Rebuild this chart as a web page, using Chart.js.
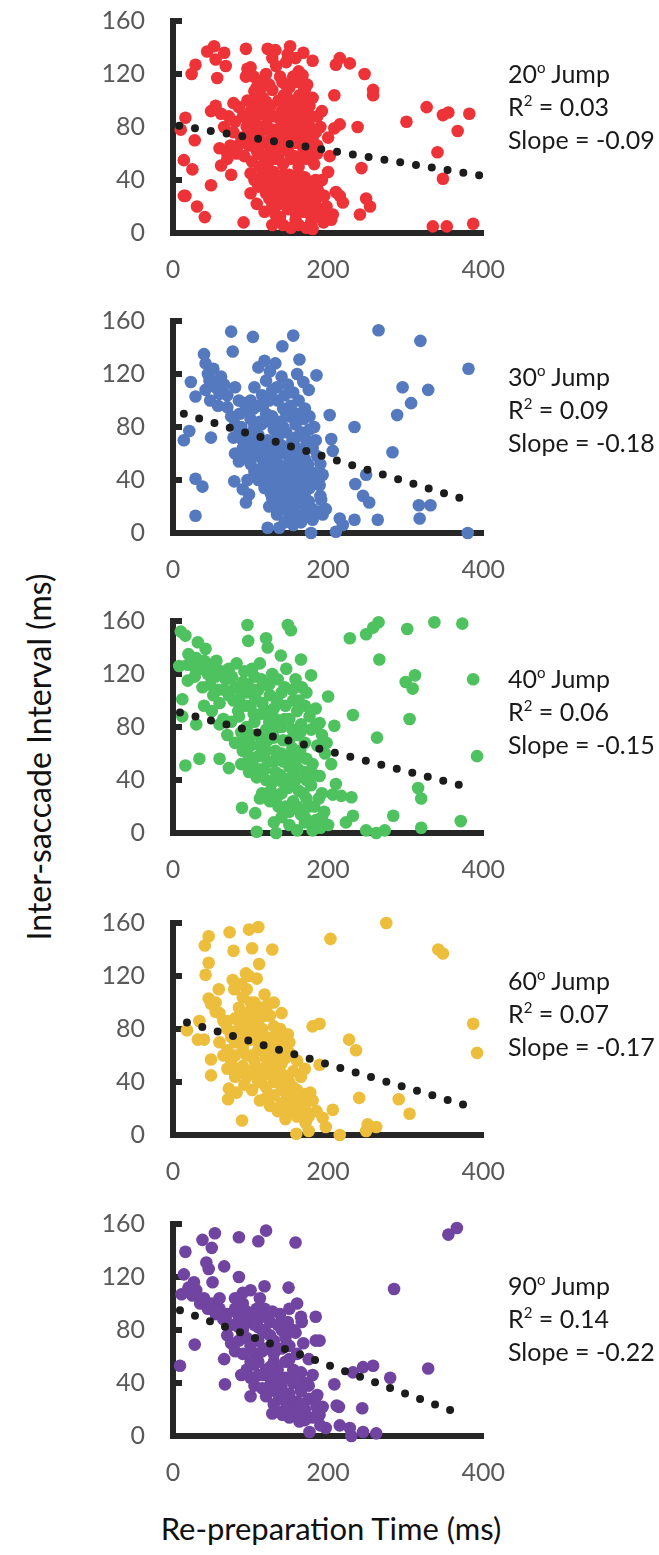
<!DOCTYPE html>
<html lang="en">
<head>
<meta charset="UTF-8">
<script src="https://cdn.jsdelivr.net/npm/chart.js"></script>
<style>
  body { margin: 0; background: #fff; }
  #page { position: relative; width: 659px; height: 1555px; font-family: Lato, sans-serif; overflow: hidden; }
  canvas { position: absolute; left: 0; }
  .note { position: absolute; left: 508px; font-size: 25px; line-height: 33px; color: #1a1a1a; white-space: nowrap; }
  .note sup { font-size: 15px; vertical-align: 10px; line-height: 0; }
  #xtitle { position: absolute; left: 0; width: 662px; top: 1509px; text-align: center; font-size: 31px; color: #111; }
  #ytitle { position: absolute; left: 38px; top: 757px; transform: translate(-50%, -50%) rotate(-90deg); font-size: 32px; color: #111; white-space: nowrap; }
</style>
</head>
<body>
<div id="page">
  <div id="ytitle">Inter-saccade Interval (ms)</div>
  <div id="xtitle">Re-preparation Time (ms)</div>
</div>
<script>
// ---- data ----
const jumps = ['20', '30', '40', '60', '90']
const rSquared = ['0.03', '0.09', '0.06', '0.07', '0.14']
const slopes = ['-0.09', '-0.18', '-0.15', '-0.17', '-0.22']
const xTicks = [0, 200, 400]
const yTicks = [0, 40, 80, 120, 160]

const jump20 = [[53,141],[44,137],[66,136],[94,139],[122,139],[151,141],[168,136],[180,130],[29,127],[24,120],
  [55,131],[68,126],[57,117],[96,124],[94,118],[128,132],[133,126],[146,129],[141,114],[167,119],[169,110],
  [215,132],[210,127],[228,128],[247,120],[258,108],[258,104],[208,104],[115,115],[105,107],[120,99],[143,104],
  [180,102],[49,92],[55,96],[16,87],[10,78],[28,70],[14,55],[25,48],[49,36],[14,28],[16,28],[31,20],[41,12],
  [91,8],[128,6],[180,3],[241,14],[249,26],[254,20],[215,28],[219,23],[243,49],[238,80],[301,84],[327,95],
  [348,89],[355,91],[382,90],[367,77],[341,61],[348,41],[335,5],[353,5],[387,7],[208,79],[215,82],[200,72],
  [202,58],[200,46],[189,39],[184,36],[210,31],[197,14],[206,14],[62,51],[75,44],[70,56],
  [85,95],[90,88],[95,80],[100,92],[105,85],[110,75],[115,90],[120,82],[125,70],[130,88],[135,78],[140,92],
  [145,84],[150,72],[155,95],[160,86],[165,78],[170,90],[175,82],[180,70],[88,72],[98,66],[108,62],[118,68],
  [128,60],[138,66],[148,62],[158,68],[168,64],[178,60],[92,58],[102,54],[112,60],[122,52],[132,56],[142,52],
  [152,56],[162,50],[172,56],[182,52],[80,84],[84,66],[96,100],[106,98],[116,102],[126,96],[136,100],[146,104],
  [156,100],[166,98],[176,96],[186,88],[190,80],[112,108],[124,112],[150,110],[160,114],[104,76],[134,72],
  [144,76],[164,72],[174,74],[114,96],[154,82],[170,100],[78,76],[82,60],[186,66],[192,92],
  [100,45],[105,40],[110,35],[115,44],[120,30],[125,38],[130,46],[135,28],[140,40],[145,34],[150,44],[155,24],
  [160,38],[165,30],[170,42],[175,22],[180,34],[185,26],[190,18],[195,28],[100,30],[108,22],[118,16],[128,20],
  [138,12],[148,18],[158,10],[168,16],[178,8],[188,12],[198,20],[112,50],[132,14],[142,6],[152,4],[162,6],
  [172,4],[182,18],[124,26],[134,36],[144,24],[154,32],[164,20],[174,28],[184,40],[194,8],[204,10],
  [100,125],[104,118],[108,110],[120,120],[128,108],[138,118],[145,112],[155,118],[162,122],[170,108],
  [158,132],[148,135],[132,138],[62,90],[66,80],[72,88],[74,66],[70,60],[60,64],[78,98],
  [95,70],[100,78],[106,88],[112,70],[118,78],[122,88],[128,78],[132,64],[138,86],[142,72],[148,90],[152,78],
  [158,76],[162,92],[168,84],[172,66],[178,88],[184,76],[96,86],[102,70],[116,58],[126,64],[136,58],[146,68],
  [156,58],[166,58],[176,68],[186,60],[122,44],[132,40],[142,44],[152,38],[162,44],[172,36],[127,32],[137,22],
  [147,28],[157,16],[167,24],[177,14],[187,32],[117,38],[192,40],[107,82],[113,92],[143,96],[153,88],[163,104],
  [173,112]]

const jump30 = [[75,152],[103,148],[155,149],[265,153],[319,145],[381,124],[40,135],[42,128],[77,137],[141,141],
  [163,131],[185,119],[23,114],[29,103],[47,115],[42,108],[296,110],[329,108],[307,98],[289,89],[234,80],
  [283,61],[14,70],[21,77],[49,72],[202,89],[204,71],[206,62],[249,44],[235,37],[245,28],[253,23],[29,41],
  [38,35],[29,13],[234,10],[264,10],[317,21],[332,21],[318,11],[380,0],[94,23],[98,29],[90,33],[79,39],
  [122,4],[137,4],[178,0],[210,1],[215,11],[219,6],[187,16],[193,14],[197,18],[193,44],[189,36],[191,25],
  [45,120],[50,115],[55,110],[60,105],[48,100],[58,96],[66,112],[70,104],[80,110],[85,100],[62,118],[52,124],
  [70,95],[75,88],[80,82],[85,76],[90,70],[95,92],[100,86],[105,80],[110,74],[115,68],[120,62],[125,56],
  [130,50],[135,44],[140,38],[145,32],[150,26],[155,20],[160,14],[165,8],[100,100],[105,110],[110,96],[115,104],
  [120,90],[125,84],[130,78],[135,72],[140,66],[145,60],[150,54],[155,48],[160,42],[165,36],[170,30],[175,24],
  [180,18],[120,115],[128,108],[135,100],[142,94],[150,88],[158,82],[165,76],[172,70],[180,64],[186,58],
  [190,52],[80,60],[85,54],[90,64],[95,58],[100,52],[105,46],[110,40],[115,56],[120,48],[125,42],[130,36],
  [135,30],[140,24],[145,18],[150,12],[155,6],[110,125],[118,130],[125,122],[132,128],[140,118],[148,112],
  [155,106],[162,100],[170,94],[176,88],[182,80],[160,120],[168,114],[175,108],[110,60],[96,72],[88,80],
  [78,72],[130,64],[138,84],[146,76],[154,70],[162,62],[170,56],[178,46],[184,38],[172,40],[166,50],[158,58],
  [140,50],[148,42],[156,34],[164,26],[172,16],[180,10],[124,20],[134,14],[144,8],[190,28],[112,84],[104,64],
  [96,40],[118,34],[128,26],
  [100,75],[108,68],[114,82],[122,70],[128,88],[134,58],[142,80],[150,64],[158,72],[166,62],[174,52],[182,44],
  [176,34],[168,44],[160,50],[152,40],[144,46],[136,52],[128,46],[120,54],[112,48],[104,58],[94,64],[86,90],
  [92,98],[104,94],[116,96],[124,100],[134,110],[144,104],[152,96],[160,90],[168,86],[176,78],[184,70],[188,40],
  [160,30],[168,22],[176,12],[150,34],[142,28],[134,22],[126,30],[118,40],[160,64],[146,90]]

const jump40 = [[96,157],[148,157],[152,153],[10,152],[16,149],[97,145],[120,147],[122,140],[32,144],[42,139],
  [139,134],[165,131],[228,147],[249,150],[258,155],[265,159],[302,154],[337,159],[373,158],[266,131],
  [312,119],[300,114],[309,109],[387,116],[305,86],[263,72],[392,58],[232,89],[200,103],[172,106],[178,119],
  [8,126],[19,127],[19,115],[12,101],[12,88],[30,82],[16,51],[34,56],[60,56],[72,49],[89,19],[106,15],[108,1],
  [133,0],[316,34],[320,26],[284,13],[320,4],[371,9],[249,2],[262,0],[273,2],[232,13],[223,8],[210,37],
  [206,29],[217,28],[230,27],[204,52],[208,81],[198,68],[189,43],[189,83],[184,81],
  [20,135],[25,128],[30,132],[35,124],[40,130],[45,120],[50,126],[55,118],[28,118],[38,110],[48,112],[58,108],
  [62,122],[68,116],[72,104],[76,118],[80,110],[85,100],[90,114],[95,106],[100,96],[105,118],[110,108],
  [115,98],[120,112],[125,104],[130,94],[135,116],[140,106],[145,96],[150,86],[155,100],[160,92],[165,82],
  [170,96],[40,96],[50,92],[60,98],[65,86],[75,84],[85,88],[95,80],[105,84],[110,74],[120,78],[130,72],
  [140,80],[150,70],[160,74],[170,68],[178,78],[70,74],[80,68],[90,62],[100,66],[110,58],[120,62],[130,54],
  [140,60],[150,50],[160,56],[170,46],[180,52],[88,52],[98,46],[108,42],[118,48],[128,38],[138,44],[148,34],
  [158,40],[168,30],[178,36],[188,26],[115,30],[125,24],[135,28],[145,20],[155,24],[165,14],[175,20],[185,10],
  [195,16],[200,6],[140,12],[150,6],[160,2],[170,8],[180,2],[190,4],[130,8],[120,40],[112,26],[142,70],
  [132,86],[122,92],[102,124],[112,128],[92,122],[82,128],[72,124],[52,104],[60,82],[88,76],[98,58],[106,102],
  [154,64],[164,62],[172,56],[186,66],[192,74],[196,60],[176,88],[184,94],[166,110],[158,116],[146,124],[128,120],
  [30,122],[44,128],[56,130],[66,108],[78,100],[88,106],[96,112],[104,108],[114,116],[124,112],[134,100],
  [144,110],[154,108],[162,100],[84,92],[94,96],[104,90],[114,90],[124,84],[134,80],[144,86],[154,78],[164,76],
  [92,70],[102,74],[112,66],[122,70],[132,62],[142,54],[152,58],[162,48],[172,40],[182,44],[102,52],[112,48],
  [122,54],[132,46],[142,38],[152,42],[162,32],[172,26],[182,20],[192,30],[140,30],[150,16],[160,20],[170,12],
  [180,8],[192,12],[136,20],[126,32]]

const jump60 = [[275,160],[203,148],[342,140],[348,137],[387,84],[392,62],[46,150],[73,153],[98,155],[110,157],
  [41,143],[78,139],[102,141],[128,140],[46,130],[42,121],[111,129],[94,122],[77,117],[79,110],[59,110],
  [46,103],[49,99],[55,93],[34,86],[18,79],[32,72],[40,72],[49,57],[49,45],[89,11],[72,35],[71,27],[180,82],
  [189,84],[227,72],[236,64],[240,28],[291,27],[305,16],[251,8],[262,6],[249,3],[215,0],[159,1],[175,3],
  [197,6],[206,19],[193,13],[171,9],[154,29],[171,31],[177,32],[170,50],[189,53],
  [55,100],[60,92],[65,86],[70,80],[75,74],[80,88],[85,96],[90,104],[95,110],[100,100],[105,92],[110,86],
  [115,80],[120,74],[125,90],[130,82],[135,72],[140,66],[60,70],[70,64],[80,60],[90,66],[100,72],[110,64],
  [120,58],[130,52],[140,46],[150,40],[160,34],[70,50],[80,44],[90,52],[100,46],[110,40],[120,36],[130,30],
  [140,24],[150,18],[160,14],[170,20],[85,78],[95,84],[105,76],[115,70],[125,62],[135,56],[145,58],[150,62],
  [155,48],[165,44],[145,32],[135,40],[125,46],[115,50],[105,56],[95,60],[75,56],[65,60],[88,114],[98,120],
  [108,118],[118,106],[122,98],[112,96],[100,88],[90,92],[80,70],[150,70],[160,56],[170,30],[165,24],[155,28],
  [145,12],[135,18],[125,22],[112,26],[102,34],[92,38],[82,32],[108,84],[118,90],[128,66],[138,80],[148,76],
  [130,100],[140,92],
  [85,86],[95,92],[105,100],[115,96],[110,78],[120,66],[100,80],[90,74],[80,78],[70,86],[130,74],[125,56],
  [115,44],[105,50],[95,44],[85,50],[100,60],[110,70],[135,64],[140,54],[130,40],[120,28],[140,36],[150,26],
  [160,20],[145,44],[155,36],[165,28],[175,14],[180,26],[185,18]]

const jump90 = [[366,157],[355,152],[285,111],[329,51],[54,153],[38,148],[85,150],[120,155],[110,147],[158,146],
  [16,139],[50,142],[43,131],[46,126],[66,128],[14,122],[27,116],[51,116],[85,120],[118,113],[149,112],[11,107],
  [9,53],[28,69],[66,58],[67,39],[184,90],[166,86],[184,72],[189,72],[245,52],[258,53],[232,48],[280,44],
  [244,21],[214,22],[211,23],[208,39],[186,31],[193,22],[189,16],[197,6],[215,8],[228,6],[230,0],[245,3],
  [262,2],[176,3],[163,11],[141,16],[128,17],
  [20,112],[25,106],[30,110],[35,100],[40,104],[45,96],[50,100],[55,92],[60,96],[65,88],[70,92],[75,84],
  [80,96],[85,90],[90,100],[95,94],[100,86],[105,92],[110,82],[115,90],[120,78],[125,86],[130,72],[135,66],
  [140,80],[145,74],[150,68],[155,80],[160,62],[70,76],[75,70],[80,64],[85,72],[90,80],[95,74],[100,68],
  [105,62],[110,56],[115,64],[120,50],[125,44],[130,56],[135,50],[140,38],[145,44],[150,32],[155,40],[160,26],
  [165,34],[170,20],[175,28],[180,14],[185,22],[190,8],[95,50],[100,44],[105,38],[110,46],[115,36],[120,30],
  [125,38],[130,24],[135,32],[140,18],[145,26],[150,14],[155,22],[165,48],[170,40],[175,58],[180,46],[88,46],
  [100,30],[108,96],[112,104],[100,110],[90,108],[80,104],[60,104],[118,96],[128,94],[138,92],[148,86],
  [158,78],[168,70],[160,100],[150,96],[165,90],
  [85,82],[95,86],[105,84],[115,80],[125,76],[135,84],[145,80],[110,72],[120,66],[130,62],[140,66],[150,58],
  [155,50],[145,56],[135,42],[125,52],[115,46],[105,54],[90,62],[100,56],[150,44],[160,42],[140,30],[130,36],
  [160,16],[165,24],[170,12],[175,38],[185,30],[145,20]]

// linear trend end points
const trend20 = [[8,81],[400,43]]
const trend30 = [[14,90],[375,25.5]]
const trend40 = [[9,91],[374,35.5]]
const trend60 = [[18,85],[380,22]]
const trend90 = [[9,95],[362,18.5]]

const series = [jump20, jump30, jump40, jump60, jump90]
const trends = [trend20, trend30, trend40, trend60, trend90]
const colors = ['#ee3338', '#5479bf', '#4dc25e', '#ecbe3c', '#7044a0']

// ---- layout (page pixels) ----
const axisColor = '#262626'
const plotLeft = 173, plotRight = 483, plotHeight = 212
const topOf160 = [21, 321, 621, 923, 1224]
const noteTops = [57, 360, 662, 964, 1269]

const tickStubs = {
  id: 'tickStubs',
  beforeDatasetsDraw(chart) {
    const { ctx, chartArea, scales } = chart
    ctx.save()
    ctx.fillStyle = axisColor
    scales.y.ticks.forEach(t => {
      if (t.value === 0) return
      const py = scales.y.getPixelForValue(t.value)
      ctx.fillRect(chartArea.left, py - 3, 9, 6)
    })
    ctx.restore()
  }
}

const toXY = arr => arr.map(p => ({ x: p[0], y: p[1] }))
const tickFont = { family: 'Lato', size: 25 }

function makeChart(canvas, i) {
  return new Chart(canvas, {
    type: 'scatter',
    data: {
      datasets: [
        {
          data: toXY(trends[i]),
          showLine: true,
          borderColor: '#1c1c1c',
          borderWidth: 8,
          borderDash: [0, 16],
          borderCapStyle: 'round',
          pointRadius: 0,
          clip: 0
        },
        {
          data: toXY(series[i]),
          backgroundColor: colors[i],
          borderWidth: 0,
          pointRadius: 6.3,
          pointHoverRadius: 6.3,
          clip: false
        }
      ]
    },
    options: {
      responsive: false,
      maintainAspectRatio: false,
      animation: false,
      events: [],
      layout: { padding: 0 },
      plugins: { legend: { display: false }, tooltip: { enabled: false } },
      scales: {
        x: {
          type: 'linear',
          min: 0, max: 400,
          afterBuildTicks: s => { s.ticks = xTicks.map(v => ({ value: v })) },
          afterFit: s => { s.height = 66 },
          grid: { display: false, drawTicks: false },
          border: { display: true, color: axisColor, width: 6 },
          ticks: { padding: 22, color: '#595959', font: tickFont }
        },
        y: {
          type: 'linear',
          min: 0, max: 160,
          afterBuildTicks: s => { s.ticks = yTicks.map(v => ({ value: v })) },
          afterFit: s => { s.width = plotLeft },
          grid: { display: false, drawTicks: false },
          border: { display: true, color: axisColor, width: 6 },
          ticks: { padding: 28, color: '#595959', font: tickFont }
        }
      }
    },
    plugins: [tickStubs]
  })
}

const page = document.getElementById('page')

for (let i = 0; i < series.length; i++) {
  const canvas = document.createElement('canvas')
  canvas.width = 505
  canvas.height = 294
  page.appendChild(canvas)

  let chart = makeChart(canvas, i)
  // size the canvas so the plot area lands where the figure has it
  const a = chart.chartArea
  const dw = Math.round(plotRight - a.right)
  const dh = Math.round(plotHeight - (a.bottom - a.top))
  if (dw !== 0 || dh !== 0) {
    chart.destroy()
    canvas.width = 505 + dw
    canvas.height = 294 + dh
    chart = makeChart(canvas, i)
  }
  canvas.style.top = (topOf160[i] - chart.chartArea.top) + 'px'
  canvas.style.left = (plotLeft - chart.chartArea.left) + 'px'

  const note = document.createElement('div')
  note.className = 'note'
  note.style.top = noteTops[i] + 'px'
  note.innerHTML = jumps[i] + '<sup>o</sup> Jump<br>R<sup>2</sup> = ' + rSquared[i] + '<br>Slope = ' + slopes[i]
  page.appendChild(note)
}
</script>
</body>
</html>
